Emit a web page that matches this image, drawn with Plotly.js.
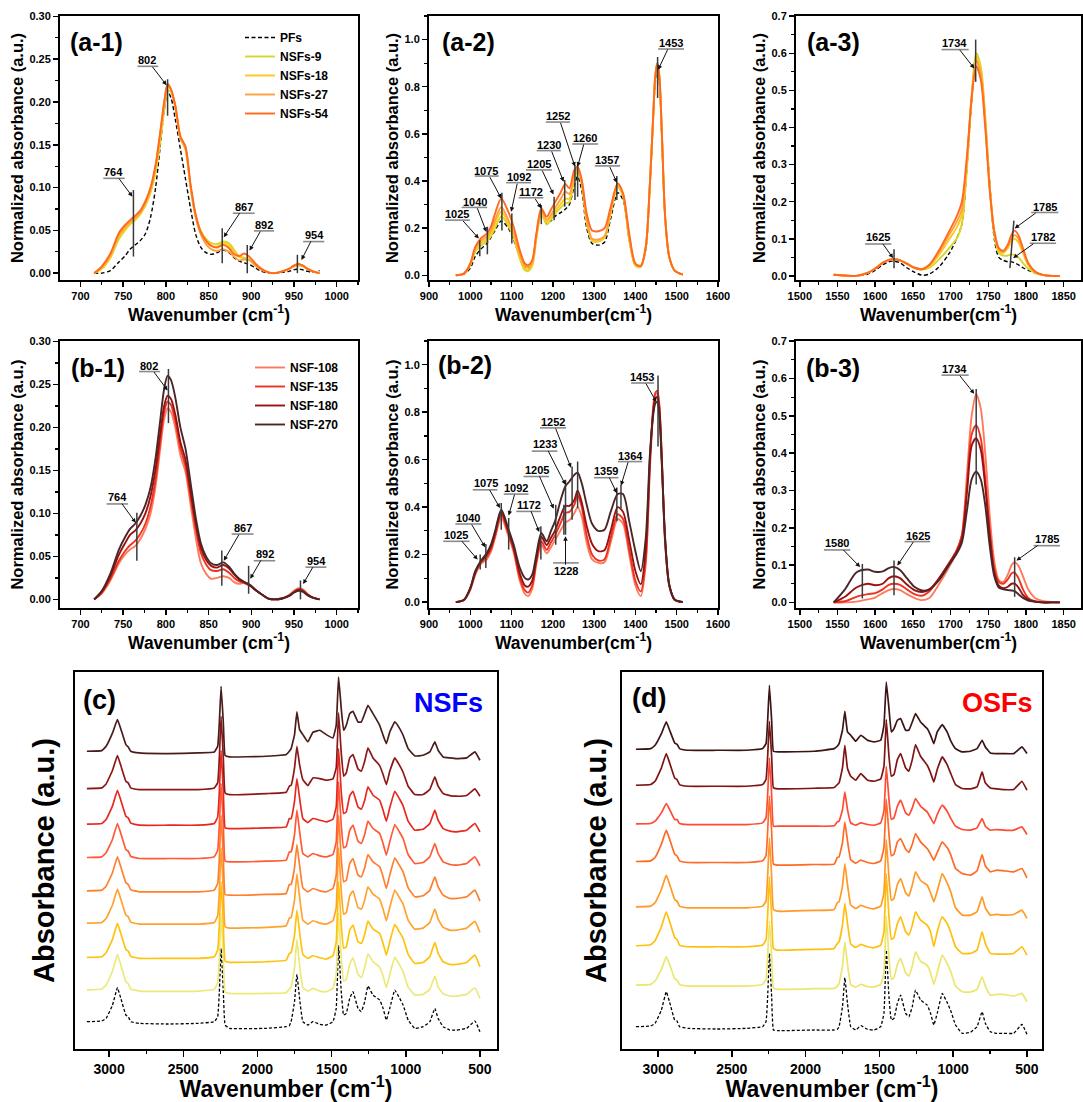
<!DOCTYPE html>
<html><head><meta charset="utf-8">
<script src="https://cdn.plot.ly/plotly-3.0.1.min.js"></script>
<style>html,body{margin:0;padding:0;background:#fff}#chart{width:1083px;height:1102px}</style>
</head><body><div id="chart"></div>
<script>
// ---------------- (a-1)/(b-1) 700-1000 cm-1 ----------------
const A1_X = [716,725,735,745,752,758,764,770,776,782,788,793,798,802,806,811,817,823,829,835,841,847,853,860,867,874,880,886,892,898,905,912,920,928,936,944,950,955,960,966,972,980];
const A1_PF    = [0,0,0.003,0.013,0.02,0.028,0.033,0.038,0.046,0.065,0.1,0.145,0.19,0.212,0.205,0.18,0.145,0.11,0.075,0.045,0.03,0.024,0.022,0.024,0.027,0.024,0.018,0.014,0.012,0.01,0.006,0.002,0,0,0.001,0.002,0.004,0.005,0.004,0.002,0.001,0.003];
const A1_NSF9  = [0,0.005,0.018,0.04,0.05,0.057,0.062,0.069,0.079,0.094,0.118,0.15,0.19,0.213,0.212,0.195,0.158,0.145,0.1,0.067,0.049,0.04,0.035,0.034,0.037,0.035,0.027,0.02,0.018,0.016,0.009,0.004,0.001,0,0.002,0.005,0.008,0.009,0.008,0.005,0.002,0];
const A1_NSF18 = [0,0.006,0.02,0.043,0.052,0.058,0.063,0.07,0.08,0.096,0.122,0.157,0.196,0.219,0.214,0.195,0.158,0.145,0.1,0.066,0.047,0.037,0.032,0.031,0.035,0.032,0.025,0.019,0.017,0.016,0.009,0.004,0.001,0,0.002,0.005,0.008,0.01,0.009,0.005,0.002,0];
const A1_NSF27 = [0,0.007,0.021,0.045,0.054,0.06,0.065,0.071,0.082,0.098,0.125,0.16,0.198,0.22,0.214,0.195,0.158,0.145,0.1,0.065,0.045,0.034,0.028,0.026,0.028,0.025,0.019,0.015,0.016,0.015,0.009,0.004,0.001,0,0.002,0.005,0.008,0.01,0.009,0.005,0.002,0];
const A1_NSF54 = [0,0.008,0.023,0.047,0.056,0.062,0.067,0.073,0.084,0.1,0.127,0.162,0.2,0.221,0.215,0.196,0.16,0.148,0.103,0.068,0.048,0.038,0.032,0.03,0.033,0.029,0.022,0.02,0.023,0.019,0.011,0.005,0.001,0,0.002,0.005,0.009,0.011,0.009,0.005,0.002,0];
const B1_NSF108 = [0,0.007,0.022,0.042,0.052,0.058,0.062,0.07,0.082,0.1,0.132,0.172,0.21,0.222,0.218,0.2,0.168,0.148,0.11,0.072,0.042,0.03,0.024,0.025,0.027,0.025,0.02,0.018,0.02,0.017,0.011,0.006,0.001,0,0.001,0.005,0.01,0.013,0.012,0.006,0.002,0];
const B1_NSF135 = [0,0.008,0.024,0.045,0.056,0.063,0.068,0.076,0.088,0.108,0.14,0.18,0.218,0.23,0.226,0.208,0.176,0.155,0.118,0.082,0.054,0.041,0.034,0.033,0.035,0.031,0.025,0.021,0.019,0.016,0.011,0.006,0.001,0,0.001,0.004,0.009,0.012,0.011,0.006,0.002,0];
const B1_NSF180 = [0,0.009,0.027,0.052,0.065,0.075,0.08,0.088,0.1,0.12,0.152,0.19,0.225,0.237,0.233,0.215,0.183,0.162,0.125,0.088,0.06,0.046,0.039,0.037,0.04,0.036,0.029,0.023,0.02,0.017,0.011,0.006,0.001,0,0.001,0.004,0.008,0.011,0.01,0.005,0.002,0];
const B1_NSF270 = [0,0.01,0.03,0.058,0.072,0.082,0.088,0.097,0.11,0.13,0.165,0.205,0.245,0.26,0.255,0.235,0.2,0.175,0.135,0.095,0.065,0.05,0.042,0.04,0.043,0.038,0.03,0.024,0.02,0.017,0.011,0.006,0.001,0,0.001,0.004,0.008,0.01,0.009,0.005,0.002,0];

// ---------------- (a-2)/(b-2) 900-1600 cm-1 ----------------
const A2_X = [965,985,1000,1012,1025,1040,1050,1060,1075,1092,1105,1120,1132,1140,1150,1160,1172,1185,1195,1205,1218,1230,1240,1252,1260,1270,1282,1295,1310,1325,1340,1357,1370,1385,1400,1413,1425,1435,1443,1448,1453,1458,1464,1472,1482,1495,1515];
const A2_PF    = [0,0.005,0.03,0.08,0.11,0.135,0.16,0.19,0.23,0.2,0.15,0.08,0.035,0.03,0.05,0.17,0.262,0.22,0.23,0.25,0.265,0.28,0.3,0.38,0.42,0.36,0.2,0.135,0.128,0.14,0.24,0.35,0.32,0.15,0.045,0.04,0.11,0.37,0.66,0.82,0.87,0.82,0.58,0.24,0.075,0.02,0.003];
const A2_NSF9  = [0,0.007,0.042,0.1,0.125,0.145,0.165,0.2,0.25,0.21,0.16,0.07,0.022,0.018,0.04,0.155,0.262,0.215,0.235,0.26,0.285,0.305,0.31,0.41,0.44,0.385,0.225,0.145,0.143,0.158,0.26,0.375,0.335,0.15,0.04,0.035,0.115,0.38,0.67,0.84,0.9,0.84,0.6,0.245,0.077,0.02,0.003];
const A2_NSF18 = [0,0.007,0.045,0.11,0.135,0.155,0.178,0.22,0.27,0.22,0.17,0.08,0.03,0.025,0.045,0.16,0.27,0.225,0.245,0.27,0.3,0.325,0.325,0.42,0.45,0.39,0.23,0.148,0.145,0.16,0.265,0.38,0.34,0.155,0.043,0.038,0.118,0.385,0.67,0.84,0.9,0.84,0.6,0.245,0.077,0.02,0.003];
const A2_NSF27 = [0,0.008,0.048,0.115,0.145,0.165,0.19,0.235,0.29,0.235,0.18,0.09,0.04,0.035,0.055,0.17,0.275,0.235,0.255,0.285,0.32,0.355,0.345,0.43,0.46,0.4,0.24,0.155,0.152,0.165,0.27,0.39,0.345,0.16,0.045,0.04,0.12,0.39,0.674,0.844,0.9,0.844,0.603,0.248,0.078,0.02,0.003];
const A2_NSF54 = [0,0.008,0.05,0.12,0.156,0.177,0.206,0.262,0.326,0.27,0.206,0.106,0.05,0.043,0.064,0.177,0.284,0.248,0.277,0.309,0.348,0.387,0.369,0.447,0.461,0.404,0.262,0.19,0.187,0.199,0.29,0.39,0.348,0.177,0.05,0.04,0.12,0.39,0.674,0.844,0.9,0.844,0.603,0.248,0.078,0.02,0.003];
const B2_NSF108 = [0,0.009,0.052,0.115,0.16,0.18,0.212,0.27,0.355,0.28,0.21,0.09,0.035,0.025,0.055,0.16,0.24,0.205,0.23,0.26,0.3,0.335,0.345,0.375,0.4,0.36,0.25,0.18,0.165,0.168,0.25,0.35,0.33,0.2,0.07,0.025,0.16,0.56,0.8,0.87,0.88,0.82,0.59,0.25,0.07,0.01,0];
const B2_NSF135 = [0,0.009,0.055,0.12,0.165,0.19,0.222,0.28,0.37,0.29,0.22,0.1,0.05,0.04,0.07,0.17,0.255,0.22,0.25,0.28,0.33,0.375,0.38,0.41,0.45,0.4,0.28,0.2,0.175,0.18,0.27,0.37,0.35,0.22,0.09,0.045,0.18,0.58,0.82,0.88,0.89,0.83,0.6,0.25,0.07,0.01,0];
const B2_NSF180 = [0,0.01,0.058,0.125,0.17,0.2,0.232,0.29,0.38,0.3,0.23,0.12,0.07,0.065,0.09,0.18,0.275,0.24,0.27,0.3,0.36,0.405,0.405,0.43,0.47,0.42,0.32,0.245,0.215,0.218,0.3,0.4,0.38,0.26,0.13,0.075,0.22,0.6,0.8,0.855,0.865,0.81,0.6,0.26,0.07,0.01,0];
const B2_NSF270 = [0,0.01,0.06,0.13,0.172,0.207,0.242,0.298,0.389,0.31,0.242,0.144,0.102,0.095,0.116,0.2,0.291,0.256,0.298,0.34,0.424,0.487,0.508,0.536,0.545,0.5,0.41,0.33,0.3,0.305,0.38,0.455,0.455,0.34,0.214,0.13,0.27,0.62,0.787,0.836,0.843,0.787,0.578,0.27,0.074,0.011,0.001];

// ---------------- (a-3)/(b-3) 1500-1850 cm-1 ----------------
const A3_X = [1545,1560,1575,1590,1600,1610,1618,1625,1633,1642,1652,1662,1672,1685,1698,1708,1715,1722,1728,1734,1740,1746,1752,1758,1764,1770,1776,1781,1785,1790,1796,1803,1812,1822,1835,1845];
const A3_PF    = [0.002,0.001,0,0.005,0.015,0.03,0.038,0.04,0.035,0.022,0.01,0.002,0.005,0.025,0.06,0.1,0.14,0.3,0.47,0.58,0.55,0.42,0.25,0.1,0.05,0.042,0.038,0.038,0.035,0.03,0.022,0.015,0.008,0.003,0,0];
const A3_NSF9  = [0.003,0.001,0,0.008,0.02,0.035,0.043,0.045,0.042,0.033,0.022,0.017,0.022,0.045,0.075,0.1,0.14,0.3,0.49,0.6,0.565,0.43,0.24,0.11,0.062,0.055,0.055,0.058,0.057,0.05,0.035,0.02,0.008,0.002,0,0];
const A3_NSF18 = [0.003,0.001,0,0.008,0.02,0.035,0.043,0.045,0.042,0.033,0.022,0.018,0.027,0.058,0.098,0.13,0.165,0.31,0.48,0.59,0.555,0.42,0.24,0.118,0.068,0.062,0.075,0.094,0.1,0.09,0.062,0.03,0.01,0.003,0,0];
const A3_NSF27 = [0.003,0.001,0,0.008,0.02,0.035,0.043,0.045,0.042,0.033,0.022,0.018,0.03,0.065,0.11,0.145,0.18,0.32,0.48,0.58,0.545,0.41,0.235,0.12,0.072,0.065,0.08,0.102,0.11,0.1,0.068,0.032,0.011,0.003,0,0];
const A3_NSF54 = [0.003,0.001,0,0.008,0.02,0.035,0.043,0.045,0.042,0.033,0.022,0.018,0.03,0.07,0.12,0.16,0.2,0.33,0.48,0.565,0.53,0.4,0.23,0.12,0.075,0.068,0.085,0.112,0.122,0.11,0.075,0.035,0.012,0.003,0,0];
const B3_NSF108 = [0,0,0.002,0.008,0.013,0.025,0.033,0.036,0.033,0.022,0.012,0.006,0.012,0.05,0.095,0.135,0.18,0.35,0.5,0.558,0.52,0.4,0.23,0.11,0.06,0.055,0.075,0.1,0.108,0.098,0.07,0.035,0.012,0.004,0.001,0];
const B3_NSF135 = [0,0.003,0.015,0.022,0.025,0.035,0.047,0.05,0.047,0.035,0.022,0.018,0.03,0.065,0.105,0.14,0.18,0.32,0.45,0.475,0.44,0.33,0.19,0.09,0.055,0.05,0.062,0.078,0.08,0.065,0.035,0.012,0.003,0,0,0];
const B3_NSF180 = [0,0.015,0.04,0.05,0.046,0.05,0.065,0.07,0.065,0.048,0.033,0.028,0.035,0.065,0.105,0.135,0.17,0.3,0.42,0.44,0.41,0.31,0.18,0.08,0.045,0.038,0.042,0.05,0.05,0.04,0.02,0.008,0.002,0,0,0];
const B3_NSF270 = [0,0.035,0.08,0.088,0.082,0.083,0.092,0.095,0.087,0.065,0.042,0.032,0.035,0.06,0.1,0.13,0.16,0.25,0.33,0.35,0.33,0.26,0.15,0.07,0.04,0.035,0.033,0.032,0.03,0.022,0.012,0.005,0.002,0,0,0];

// ---------------- (c)/(d) full spectra, values relative to each spectrum's stacking offset ----------------
const F_X = [3150,3050,3020,2977,2944,2921,2887,2871,2854,2797,2600,2400,2291,2268,2257,2245,2230,2218,2189,1940,1806,1785,1773,1750,1734,1716,1694,1660,1626,1580,1536,1491,1469,1453,1435,1419,1401,1378,1356,1322,1300,1277,1255,1221,1176,1153,1131,1108,1074,1041,1018,984,939,883,838,804,782,748,703,658,590,534,500];
const C_NAMES = ['PFs','NSFs-9','NSFs-18','NSFs-27','NSFs-54','NSF-108','NSF-135','NSF-180','NSF-270'];
const C_OFFSETS = [0.77,1.74,2.72,3.75,4.72,5.72,6.72,7.79,8.89];
const C_PF     = [0.05,0.07,0.15,0.55,1.07,0.75,0.25,0.2,0.05,0.0,-0.02,0.0,0.05,0.2,0.95,2.25,0.95,-0.05,-0.15,-0.15,-0.1,-0.07,0.05,0.65,1.47,0.75,0.05,-0.05,0.05,-0.03,-0.05,0.05,0.45,2.33,0.95,0.25,0.3,0.75,0.95,0.45,0.35,0.65,1.12,0.85,0.7,0.45,0.1,0.45,1.0,0.75,0.55,0.1,-0.15,-0.1,0.05,0.45,0.15,-0.1,-0.2,-0.2,-0.15,0.07,-0.25];
const C_NSF9   = [0.03,0.06,0.18,0.6,1.1,0.78,0.28,0.22,0.06,0.0,-0.01,0.0,0.05,0.25,1.0,2.35,1.0,-0.03,-0.07,-0.07,-0.05,0.06,0.12,0.7,1.55,0.8,0.1,0.0,0.08,0.0,-0.02,0.08,0.5,2.35,1.0,0.3,0.35,0.8,1.0,0.5,0.4,0.7,1.12,0.88,0.72,0.45,0.1,0.5,1.02,0.78,0.58,0.12,-0.12,-0.1,0.05,0.45,0.12,-0.08,-0.15,-0.15,-0.1,0.1,-0.22];
const C_NSF18  = [0.03,0.05,0.17,0.58,1.05,0.75,0.27,0.22,0.06,0.0,0.0,0.0,0.05,0.25,1.0,2.3,1.0,-0.08,-0.12,-0.1,-0.05,0.15,0.18,0.7,1.45,0.8,0.12,0.0,0.08,0.02,-0.02,0.08,0.5,2.3,1.0,0.3,0.35,0.85,1.0,0.5,0.45,0.72,1.12,0.88,0.75,0.45,0.1,0.5,1.02,0.78,0.6,0.12,-0.15,-0.12,0.05,0.48,0.15,-0.1,-0.18,-0.18,-0.12,0.1,-0.25];
const C_NSF27  = [0.03,0.05,0.17,0.58,1.05,0.75,0.27,0.22,0.06,0.0,0.0,0.0,0.05,0.25,1.0,2.3,1.0,-0.08,-0.12,-0.1,-0.05,0.18,0.2,0.72,1.5,0.82,0.12,0.0,0.1,0.03,0.0,0.1,0.5,2.3,1.0,0.3,0.35,0.85,1.0,0.5,0.45,0.72,1.12,0.9,0.75,0.45,0.1,0.5,1.02,0.78,0.6,0.12,-0.15,-0.12,0.05,0.45,0.15,-0.1,-0.18,-0.18,-0.12,0.08,-0.25];
const C_NSF54  = [0.03,0.05,0.17,0.58,1.05,0.75,0.27,0.22,0.06,0.0,0.0,0.0,0.05,0.25,1.0,2.3,1.0,-0.08,-0.1,-0.08,-0.05,0.22,0.22,0.72,1.42,0.8,0.12,0.0,0.1,0.03,0.0,0.1,0.5,2.3,1.0,0.3,0.35,0.85,1.0,0.5,0.45,0.72,1.12,0.9,0.75,0.45,0.1,0.5,1.02,0.78,0.6,0.12,-0.15,-0.12,0.05,0.45,0.15,-0.1,-0.2,-0.2,-0.15,0.05,-0.28];
const C_NSF108 = [0.03,0.05,0.17,0.58,1.05,0.75,0.27,0.22,0.06,0.0,0.0,0.0,0.05,0.25,1.0,2.25,1.0,-0.08,-0.1,-0.08,-0.05,0.2,0.2,0.72,1.45,0.82,0.15,0.05,0.15,0.08,0.05,0.12,0.5,2.3,1.0,0.32,0.37,0.85,1.0,0.52,0.45,0.72,1.12,0.9,0.75,0.45,0.1,0.5,1.02,0.78,0.6,0.12,-0.15,-0.12,0.05,0.45,0.15,-0.1,-0.18,-0.2,-0.15,0.05,-0.22];
const C_NSF135 = [0.03,0.05,0.17,0.58,1.05,0.75,0.27,0.22,0.06,0.0,0.0,0.0,0.05,0.25,1.0,2.25,1.0,-0.08,-0.1,-0.08,-0.05,0.2,0.2,0.72,1.4,0.82,0.2,0.08,0.2,0.15,0.1,0.18,0.55,2.3,1.0,0.35,0.4,0.88,1.02,0.55,0.48,0.75,1.15,0.9,0.75,0.45,0.12,0.52,1.02,0.78,0.58,0.12,-0.15,-0.12,0.05,0.45,0.15,-0.1,-0.18,-0.2,-0.15,0.05,-0.2];
const C_NSF180 = [0.03,0.05,0.17,0.58,1.02,0.72,0.25,0.2,0.05,0.0,0.0,0.0,0.05,0.2,0.95,2.2,0.95,-0.1,-0.15,-0.12,-0.08,0.1,0.13,0.65,1.3,0.75,0.3,0.12,0.35,0.33,0.28,0.32,0.65,2.3,1.1,0.4,0.5,0.95,1.05,0.62,0.55,0.85,1.25,0.95,0.72,0.45,0.15,0.55,0.95,0.72,0.52,0.1,-0.15,-0.15,0.0,0.38,0.1,-0.12,-0.18,-0.2,-0.18,0.02,-0.2];
const C_NSF270 = [0.05,0.07,0.2,0.6,1.0,0.72,0.25,0.18,0.05,0.0,-0.02,0.0,0.03,0.2,0.9,2.0,0.9,-0.08,-0.12,-0.1,-0.05,0.05,0.13,0.55,1.23,0.7,0.55,0.33,0.62,0.68,0.55,0.45,0.83,2.28,1.33,0.68,0.83,1.18,1.25,0.93,0.93,1.18,1.43,1.18,0.83,0.53,0.28,0.63,0.93,0.73,0.53,0.13,-0.09,-0.07,0.03,0.33,0.08,-0.12,-0.15,-0.17,-0.15,0.03,-0.22];

const D_NAMES = ['PFs','OSFs-9','OSFs-18','OSFs-27','OSFs-54','OSF-108','OSF-135','OSF-180'];
const D_OFFSETS = [0.62,1.89,3.07,4.24,5.6,6.74,7.89,8.97];
const D_PF    = [0.05,0.07,0.15,0.55,1.1,0.78,0.25,0.22,0.05,0.0,-0.02,0.0,0.05,0.2,0.95,2.25,0.95,-0.05,-0.07,-0.05,-0.05,-0.03,0.05,0.65,1.52,0.75,0.05,-0.05,0.08,-0.03,-0.05,0.05,0.45,2.35,0.95,0.25,0.3,0.75,1.0,0.45,0.35,0.65,1.15,0.85,0.7,0.45,0.1,0.45,1.05,0.78,0.55,0.1,-0.15,-0.12,0.05,0.5,0.15,-0.1,-0.15,-0.15,-0.15,0.12,-0.18];
const D_OSF9  = [0.03,0.05,0.15,0.5,0.88,0.65,0.22,0.18,0.05,0.0,0.0,0.0,0.05,0.2,0.9,1.95,0.9,-0.05,-0.1,-0.08,-0.07,0.0,0.08,0.6,1.33,0.65,0.05,-0.03,0.05,-0.02,-0.03,0.05,0.4,2.1,0.85,0.2,0.25,0.65,0.83,0.4,0.3,0.6,1.03,0.75,0.62,0.4,0.05,0.4,0.93,0.68,0.45,0.0,-0.17,-0.18,-0.1,0.28,0.0,-0.27,-0.25,-0.25,-0.3,-0.22,-0.47];
const D_OSF18 = [0.03,0.06,0.18,0.6,1.05,0.75,0.28,0.22,0.05,0.0,0.0,0.0,0.05,0.2,0.95,2.1,0.95,-0.05,-0.1,-0.08,-0.05,0.1,0.15,0.65,1.3,0.7,0.08,-0.02,0.07,0.0,-0.03,0.05,0.45,2.2,0.9,0.22,0.28,0.7,0.9,0.45,0.35,0.65,1.05,0.8,0.65,0.45,0.0,0.45,0.9,0.7,0.45,0.0,-0.2,-0.2,-0.1,0.45,0.1,-0.2,-0.22,-0.22,-0.2,0.0,-0.25];
const D_OSF27 = [0.03,0.05,0.15,0.55,0.98,0.7,0.25,0.2,0.05,0.0,0.0,0.0,0.05,0.2,0.95,2.1,0.95,-0.05,-0.1,-0.08,-0.05,0.15,0.18,0.65,1.33,0.7,0.08,-0.02,0.07,0.0,-0.03,0.05,0.45,2.05,0.9,0.22,0.28,0.7,0.88,0.45,0.35,0.68,1.08,0.82,0.68,0.45,0.18,0.5,1.03,0.75,0.5,0.0,-0.22,-0.22,-0.12,0.33,0.0,-0.22,-0.2,-0.22,-0.2,-0.07,-0.32];
const D_OSF54 = [0.03,0.05,0.15,0.55,0.97,0.7,0.25,0.2,0.05,0.0,0.0,0.0,0.05,0.2,0.95,2.0,0.95,-0.05,-0.08,-0.06,-0.05,0.15,0.17,0.6,1.22,0.65,0.08,-0.02,0.07,0.0,-0.03,0.05,0.45,1.9,0.85,0.2,0.25,0.62,0.72,0.4,0.3,0.55,0.87,0.62,0.42,0.25,0.07,0.3,0.62,0.45,0.25,-0.18,-0.33,-0.38,-0.25,0.24,-0.1,-0.28,-0.23,-0.25,-0.28,-0.18,-0.46];
const D_OSF108 = [0.02,0.03,0.1,0.35,0.63,0.45,0.15,0.15,0.03,0.0,0.0,0.0,0.05,0.2,0.9,2.0,0.9,-0.05,-0.05,-0.05,-0.04,0.08,0.1,0.45,0.98,0.45,0.05,-0.02,0.05,0.0,-0.02,0.05,0.4,1.75,0.75,0.15,0.2,0.55,0.73,0.35,0.28,0.5,0.78,0.55,0.38,0.2,0.03,0.3,0.58,0.4,0.2,-0.05,-0.15,-0.17,-0.1,0.18,-0.05,-0.17,-0.15,-0.17,-0.17,-0.07,-0.3];
const D_OSF135 = [0.03,0.05,0.15,0.55,0.98,0.7,0.25,0.2,0.05,0.0,0.0,0.0,0.05,0.2,0.9,1.95,0.9,-0.05,-0.08,-0.06,-0.04,0.05,0.1,0.55,1.23,0.53,0.3,0.18,0.38,0.18,0.15,0.22,0.6,2.0,0.9,0.3,0.35,0.8,0.98,0.55,0.45,0.8,1.25,0.9,0.63,0.4,0.13,0.5,0.88,0.65,0.4,0.05,-0.07,-0.08,-0.02,0.43,0.1,-0.05,-0.08,-0.1,-0.1,0.15,-0.12];
const D_OSF180 = [0.03,0.05,0.15,0.5,0.85,0.6,0.22,0.18,0.05,0.0,0.0,0.0,0.05,0.2,0.9,1.95,0.9,-0.03,-0.05,-0.03,0.05,0.12,0.2,0.6,1.17,0.55,0.45,0.27,0.45,0.3,0.25,0.3,0.75,2.05,1.25,0.55,0.65,0.9,0.95,0.6,0.6,0.85,1.1,0.85,0.65,0.45,0.2,0.55,0.77,0.55,0.3,0.05,-0.05,-0.03,0.05,0.3,0.1,-0.08,-0.1,-0.1,-0.1,0.1,-0.1];

// ---------------- peak labels (layout annotations) ----------------
// t: label, tx/ty: text centre, u: [x0,x1,y] label line, h: arrow head, m: marker line [x0,y0,x1,y1]
const PEAKS_A1 = [
 {t:'764', tx:739.2, ty:0.1185, u:[726.7,751.8,0.1108], h:[760.8,0.0894], m:[762,0.0194,762,0.0972]},
 {t:'802', tx:778.4, ty:0.2487, u:[766.7,791,0.2417], h:[800.8,0.2196], m:[802,0.184,802,0.2266]},
 {t:'867', tx:891.4, ty:0.0777, u:[878.4,903.9,0.070], h:[867.8,0.042], m:[866,0.0117,866,0.0525]},
 {t:'892', tx:914.9, ty:0.0564, u:[903.1,926.7,0.0494], h:[898,0.0264], m:[895.3,0,895.3,0.033]},
 {t:'954', tx:973.7, ty:0.0447, u:[960.8,985.5,0.0369], h:[958.8,0.0155], m:[954,0,954,0.0214]}
];
const PEAKS_A2 = [
 {t:'1025', tx:968.5, ty:0.258, u:[938.9,999,0.234], h:[1020.6,0.156], m:[1023,0.081,1023,0.149]},
 {t:'1040', tx:1011, ty:0.312, u:[979,1041,0.288], h:[1039,0.184], m:[1041.4,0.089,1041.4,0.206]},
 {t:'1075', tx:1039, ty:0.444, u:[1011,1069,0.421], h:[1075,0.326], m:[1076.6,0.19,1076.6,0.35]},
 {t:'1092', tx:1117, ty:0.416, u:[1087,1147,0.393], h:[1099,0.27], m:[1100.6,0.135,1100.6,0.262]},
 {t:'1172', tx:1147, ty:0.352, u:[1117,1177,0.329], h:[1172,0.284], m:[1172,0.217,1172,0.298]},
 {t:'1205', tx:1167, ty:0.471, u:[1135,1197.5,0.447], h:[1201.5,0.343], m:[1203,0.234,1203,0.333]},
 {t:'1230', tx:1191, ty:0.553, u:[1160.7,1219,0.529], h:[1226,0.397], m:[1228.7,0.291,1228.7,0.404]},
 {t:'1252', tx:1213.5, ty:0.674, u:[1183,1241.5,0.65], h:[1253.5,0.461], m:[1253.5,0.319,1253.5,0.468]},
 {t:'1260', tx:1279, ty:0.582, u:[1247,1309.6,0.557], h:[1260,0.461], m:[1260,0.333,1260,0.475]},
 {t:'1357', tx:1331, ty:0.487, u:[1301.6,1363,0.464], h:[1355,0.393], m:[1355,0.319,1355,0.421]},
 {t:'1453', tx:1485.7, ty:0.986, u:[1455,1517.7,0.96], h:[1455,0.872], m:[1453.7,0.752,1453.7,0.926]}
];
const PEAKS_A3 = [
 {t:'1625', tx:1604, ty:0.104, u:[1586.6,1621.5,0.086], h:[1623.7,0.048], m:[1625,0.021,1625,0.072]},
 {t:'1734', tx:1705.3, ty:0.627, u:[1688,1724,0.61], h:[1731.5,0.559], m:[1733.3,0.523,1733.3,0.637]},
 {t:'1785', tx:1824.6, ty:0.187, u:[1807,1843,0.171], h:[1785,0.128], m:[1778.7,0.021,1784,0.149]},
 {t:'1782', tx:1822, ty:0.104, u:[1805,1840,0.088], h:[1783,0.048], m:null}
];
const PEAKS_B1 = [
 {t:'764', tx:743, ty:0.119, u:[730.6,755.7,0.111], h:[764.7,0.089], m:[766,0.045,766,0.1007]},
 {t:'802', tx:780.4, ty:0.272, u:[768.6,793,0.265], h:[802,0.243], m:[803,0.205,803,0.268]},
 {t:'867', tx:890, ty:0.083, u:[877,902.7,0.076], h:[867.8,0.045], m:[865.5,0.016,865.5,0.057]},
 {t:'892', tx:915.7, ty:0.053, u:[903,928,0.045], h:[898.8,0.024], m:[896.9,0.0066,896.9,0.039]},
 {t:'954', tx:976.5, ty:0.045, u:[963.5,988,0.0375], h:[960.8,0.018], m:[957.6,0,957.6,0.022]}
];
const PEAKS_B2 = [
 {t:'1025', tx:966, ty:0.284, u:[934.4,998,0.256], h:[1017.8,0.179], m:[1024,0.137,1024,0.2]},
 {t:'1040', tx:994, ty:0.354, u:[963.8,1027,0.329], h:[1036,0.231], m:[1037.7,0.144,1037.7,0.245]},
 {t:'1075', tx:1037.7, ty:0.5, u:[1006,1065.5,0.473], h:[1072,0.396], m:[1075,0.305,1075,0.417]},
 {t:'1092', tx:1111.5, ty:0.48, u:[1081,1141,0.455], h:[1093,0.365], m:[1093,0.221,1093,0.354]},
 {t:'1172', tx:1141, ty:0.41, u:[1111.5,1171,0.382], h:[1167,0.295], m:[1171,0.179,1171,0.319]},
 {t:'1205', tx:1160.8, ty:0.557, u:[1129,1191,0.529], h:[1202,0.393], m:[1207,0.242,1207,0.41]},
 {t:'1233', tx:1180.6, ty:0.664, u:[1149,1211,0.636], h:[1230.7,0.494], m:[1230.7,0.284,1230.7,0.515]},
 {t:'1228', tx:1230.7, ty:0.13, u:[1200.5,1262.5,0.165], h:[1230.7,0.277], m:[1226.7,0.284,1226.7,0.41]},
 {t:'1252', tx:1200.5, ty:0.759, u:[1168.7,1232,0.734], h:[1244,0.566], m:[1246.6,0.347,1246.6,0.571]},
 {t:'', m:[1260,0.396,1260,0.592]},
 {t:'1359', tx:1329, ty:0.552, u:[1299.8,1359,0.524], h:[1355,0.459], m:[1355,0.34,1355,0.483]},
 {t:'1364', tx:1387, ty:0.617, u:[1357.8,1416.5,0.592], h:[1365,0.491], m:[1365,0.396,1365,0.494]},
 {t:'1453', tx:1416.5, ty:0.948, u:[1389.5,1445,0.923], h:[1450.7,0.843], m:[1454.7,0.655,1454.7,0.955]}
];
const PEAKS_B3 = [
 {t:'1580', tx:1549.5, ty:0.158, u:[1532,1567,0.1406], h:[1580,0.0946], m:[1583,0.0106,1583,0.103]},
 {t:'1625', tx:1656.4, ty:0.179, u:[1639,1673,0.163], h:[1629.4,0.099], m:[1625,0.019,1625,0.112]},
 {t:'1734', tx:1705.3, ty:0.625, u:[1688,1724,0.609], h:[1731.5,0.559], m:[1734,0.316,1734,0.572]},
 {t:'1785', tx:1827.6, ty:0.17, u:[1810,1845,0.152], h:[1787.4,0.112], m:[1785,0.015,1785,0.121]}
];

// ---------------- build ----------------
const W = 1083, H = 1102;
const fx = p => p / W, fy = p => 1 - p / H;
const FONT = 'Liberation Sans, Arial, Helvetica, sans-serif';

const COL_A = ['#000000','#d6d62a','#ffc81e','#ffa040','#ff6a1f'];
const COL_B = ['#ff7a5c','#ee3322','#9b1010','#4a2626'];
const COL_C = ['#000000','#ece97a','#ffc20e','#ffa22e','#ff7f2e','#ff5a34','#e8281e','#8b1717','#4a1c1c'];
const COL_D = ['#000000','#ece56e','#ffbf0e','#ff9a26','#ff6a26','#ff4a34','#7e1414','#3c1414'];

const traces = [];
function addSet(xs, ys, names, cols, xa, ya, legendName, dashFirst) {
  ys.forEach((y, i) => {
    const dashed = dashFirst && i === 0;
    traces.push({
      x: xs, y: y, name: names[i], type: 'scatter', mode: 'lines',
      xaxis: xa, yaxis: ya,
      line: {color: cols[i], width: dashed ? 1.4 : 1.9, dash: dashed ? '4px,2.5px' : 'solid', shape: 'spline', smoothing: 0.8},
      showlegend: !!legendName, legend: legendName || 'legend', hoverinfo: 'skip'
    });
  });
}
const NAMES_A = ['PFs','NSFs-9','NSFs-18','NSFs-27','NSFs-54'];
const NAMES_B = ['NSF-108','NSF-135','NSF-180','NSF-270'];
addSet(A1_X, [A1_PF,A1_NSF9,A1_NSF18,A1_NSF27,A1_NSF54], NAMES_A, COL_A, 'x', 'y', 'legend', true);
addSet(A2_X, [A2_PF,A2_NSF9,A2_NSF18,A2_NSF27,A2_NSF54], NAMES_A, COL_A, 'x2', 'y2', null, true);
addSet(A3_X, [A3_PF,A3_NSF9,A3_NSF18,A3_NSF27,A3_NSF54], NAMES_A, COL_A, 'x3', 'y3', null, true);
addSet(A1_X, [B1_NSF108,B1_NSF135,B1_NSF180,B1_NSF270], NAMES_B, COL_B, 'x4', 'y4', 'legend2', false);
addSet(A2_X, [B2_NSF108,B2_NSF135,B2_NSF180,B2_NSF270], NAMES_B, COL_B, 'x5', 'y5', null, false);
addSet(A3_X, [B3_NSF108,B3_NSF135,B3_NSF180,B3_NSF270], NAMES_B, COL_B, 'x6', 'y6', null, false);

function addStack(rel, offs, names, cols, xa, ya) {
  rel.forEach((r, i) => {
    traces.push({
      x: F_X, y: r.map(v => v + offs[i]), name: names[i], type: 'scatter', mode: 'lines',
      xaxis: xa, yaxis: ya, showlegend: false, hoverinfo: 'skip',
      line: {color: cols[i], width: i === 0 ? 1.3 : 1.7, dash: i === 0 ? '3px,2px' : 'solid', shape: 'spline', smoothing: 0.3}
    });
  });
}
addStack([C_PF,C_NSF9,C_NSF18,C_NSF27,C_NSF54,C_NSF108,C_NSF135,C_NSF180,C_NSF270], C_OFFSETS, C_NAMES, COL_C, 'x7', 'y7');
addStack([D_PF,D_OSF9,D_OSF18,D_OSF27,D_OSF54,D_OSF108,D_OSF135,D_OSF180], D_OFFSETS, D_NAMES, COL_D, 'x8', 'y8');

function axis(domain, range, anchor, dtick, minorDtick, fmt, fsize, showLabels, title) {
  const a = {
    domain: domain, range: range, anchor: anchor, showline: true, linecolor: '#000', linewidth: 2, mirror: true,
    showgrid: false, zeroline: false, fixedrange: true, automargin: false,
    tickfont: {family: FONT, size: fsize || 11, color: '#000', weight: 'bold'}
  };
  if (title) a.title = title;
  if (showLabels === false) {
    a.showticklabels = false; a.ticks = '';
  } else {
    a.ticks = 'outside'; a.ticklen = 5; a.tickwidth = 1.5; a.tickcolor = '#000';
    a.tick0 = 0; a.dtick = dtick;
    if (fmt) a.tickformat = fmt;
    if (minorDtick) a.minor = {ticks: 'outside', ticklen: 3, tickwidth: 1.2, tickcolor: '#000', dtick: minorDtick, tick0: 0};
  }
  return a;
}
const XT_SP = {text: '<b>Wavenumber (cm<sup>-1</sup>)</b>', font: {family: FONT, size: 17.5, color: '#000'}, standoff: 2};
const XT_NS = {text: '<b>Wavenumber(cm<sup>-1</sup>)</b>', font: {family: FONT, size: 17.5, color: '#000'}, standoff: 2};
const YT = {text: '<b>Normalized absorbance (a.u.)</b>', font: {family: FONT, size: 16.5, color: '#000'}, standoff: 2};
const XT_BIG = {text: '<b>Wavenumber (cm<sup>-1</sup>)</b>', font: {family: FONT, size: 23, color: '#000'}, standoff: 4};
const YT_C = {text: '<b>Absorbance (a.u.)</b>', font: {family: FONT, size: 29, color: '#000'}, standoff: 10};
const YT_D = {text: '<b>Absorbance (a.u.)</b>', font: {family: FONT, size: 29, color: '#000'}, standoff: 5};

const C1 = [fx(60), fx(358)], C2 = [fx(429), fx(718)], C3 = [fx(796), fx(1081)];
const RA = [fy(280), fy(16)], RB = [fy(608), fy(341)];

const layout = {
  width: W, height: H, margin: {l: 0, r: 0, t: 0, b: 0},
  paper_bgcolor: '#fff', plot_bgcolor: '#fff',
  font: {family: FONT, color: '#000'},
  xaxis:  axis(C1, [676, 1025], 'y', 50, 25, null, 11, true, XT_SP),
  yaxis:  axis(RA, [-0.008, 0.3005], 'x', 0.05, 0.025, '.2f', 11, true, YT),
  xaxis2: axis(C2, [900, 1600], 'y2', 100, 50, null, 11, true, XT_NS),
  yaxis2: axis(RA, [-0.02, 1.1], 'x2', 0.2, 0.1, '.1f', 11, true, YT),
  xaxis3: axis(C3, [1495, 1873], 'y3', 50, 25, null, 11, true, XT_NS),
  yaxis3: axis(RA, [-0.011, 0.7005], 'x3', 0.1, 0.05, '.1f', 11, true, YT),
  xaxis4: axis(C1, [676, 1025], 'y4', 50, 25, null, 11, true, XT_SP),
  yaxis4: axis(RB, [-0.01, 0.3005], 'x4', 0.05, 0.025, '.2f', 11, true, YT),
  xaxis5: axis(C2, [900, 1600], 'y5', 100, 50, null, 11, true, XT_NS),
  yaxis5: axis(RB, [-0.025, 1.1], 'x5', 0.2, 0.1, '.1f', 11, true, YT),
  xaxis6: axis(C3, [1495, 1873], 'y6', 50, 25, null, 11, true, XT_NS),
  yaxis6: axis(RB, [-0.015, 0.7005], 'x6', 0.1, 0.05, '.1f', 11, true, YT),
  xaxis7: axis([fx(75), fx(497)], [3230, 385], 'y7', 500, 250, null, 14, true, XT_BIG),
  yaxis7: axis([fy(1049), fy(672)], [0, 11.32], 'x7', null, null, null, 14, false, YT_C),
  xaxis8: axis([fx(622), fx(1042)], [3244, 398], 'y8', 500, 250, null, 14, true, XT_BIG),
  yaxis8: axis([fy(1049), fy(672)], [0, 11.32], 'x8', null, null, null, 14, false, YT_D),
  legend:  {x: fx(240), y: fy(23), xanchor: 'left', yanchor: 'top', bgcolor: 'rgba(0,0,0,0)', borderwidth: 0,
            font: {family: FONT, size: 12, color: '#000', weight: 'bold'}, tracegroupgap: 0},
  legend2: {x: fx(250), y: fy(353), xanchor: 'left', yanchor: 'top', bgcolor: 'rgba(0,0,0,0)', borderwidth: 0,
            font: {family: FONT, size: 12, color: '#000', weight: 'bold'}, tracegroupgap: 0},
  annotations: [], shapes: []
};
layout.xaxis7.ticklen = 6; layout.xaxis8.ticklen = 6;

function addPeaks(list, xa, ya) {
  list.forEach(p => {
    if (p.t) {
      // label text sits at the arrow tail; the arrow runs from the label to the peak
      layout.annotations.push({xref: xa, yref: ya, axref: xa, ayref: ya,
        x: p.h[0], y: p.h[1], ax: p.tx, ay: p.ty, text: '<b>' + p.t + '</b>',
        font: {family: FONT, size: 11, color: '#000'},
        showarrow: true, arrowhead: 2, arrowsize: 0.9, arrowwidth: 1, arrowcolor: '#111', standoff: 0, borderpad: 0});
      layout.shapes.push({type: 'line', xref: xa, yref: ya, x0: p.u[0], x1: p.u[1], y0: p.u[2], y1: p.u[2],
        line: {color: '#8a8a8a', width: 1.6}});
    }
    if (p.m) layout.shapes.push({type: 'line', xref: xa, yref: ya, x0: p.m[0], y0: p.m[1], x1: p.m[2], y1: p.m[3],
      line: {color: '#3a3a3a', width: 1.5}});
  });
}
addPeaks(PEAKS_A1, 'x', 'y');
addPeaks(PEAKS_A2, 'x2', 'y2');
addPeaks(PEAKS_A3, 'x3', 'y3');
addPeaks(PEAKS_B1, 'x4', 'y4');
addPeaks(PEAKS_B2, 'x5', 'y5');
addPeaks(PEAKS_B3, 'x6', 'y6');

function domText(text, xa, ya, x, y, size, color) {
  layout.annotations.push({xref: xa + ' domain', yref: ya + ' domain', x: x, y: y, text: text, showarrow: false,
    xanchor: 'center', yanchor: 'middle', font: {family: FONT, size: size, color: color || '#000'}});
}
// panel labels
domText('<b>(a-1)</b>', 'x', 'y', 0.124, 0.90, 25);
domText('<b>(a-2)</b>', 'x2', 'y2', 0.135, 0.90, 25);
domText('<b>(a-3)</b>', 'x3', 'y3', 0.13, 0.90, 25);
domText('<b>(b-1)</b>', 'x4', 'y4', 0.128, 0.90, 25);
domText('<b>(b-2)</b>', 'x5', 'y5', 0.125, 0.91, 25);
domText('<b>(b-3)</b>', 'x6', 'y6', 0.13, 0.90, 25);
domText('<b>(c)</b>', 'x7', 'y7', 0.057, 0.926, 27);
domText('<b>NSFs</b>', 'x7', 'y7', 0.884, 0.918, 27, '#0000ff');
domText('<b>(d)</b>', 'x8', 'y8', 0.064, 0.931, 27);
domText('<b>OSFs</b>', 'x8', 'y8', 0.893, 0.918, 27, '#ff0000');

Plotly.newPlot('chart', traces, layout, {staticPlot: true, displayModeBar: false});
</script></body></html>
